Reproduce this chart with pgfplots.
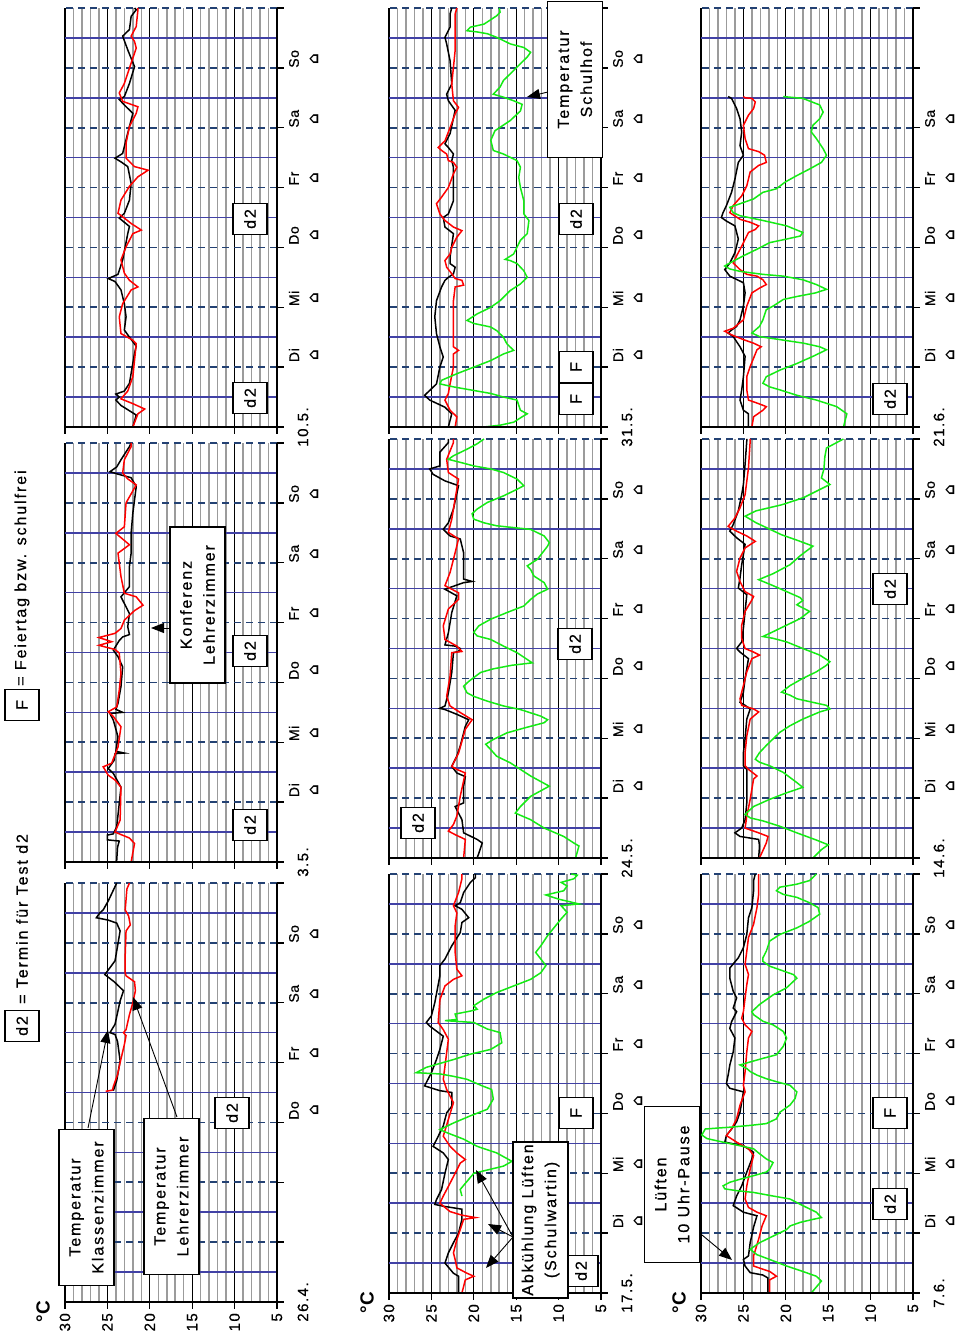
\documentclass[border=0pt]{standalone}
\usepackage{fontspec}
\setmainfont{Liberation Sans}
\newfontfamily\lsp{Liberation Sans}[LetterSpace=12,FakeBold=0.6]
\newfontfamily\lspn{Liberation Sans}[LetterSpace=10,FakeBold=0.6]
\newfontfamily\lspb{Liberation Sans}[LetterSpace=4,FakeBold=0.6]
\newfontfamily\dvs{DejaVu Sans}
\usepackage{pgfplots}
\pgfplotsset{compat=1.18}
\usetikzlibrary{arrows.meta}
\definecolor{dashblue}{RGB}{35,65,115}
\definecolor{solidblue}{RGB}{65,65,165}
\definecolor{gridgray}{RGB}{155,155,155}
\definecolor{schulgreen}{RGB}{20,235,20}
\pgfplotsset{
  panel/.style={scale only axis, width=212pt, height=419pt, anchor=south west,
    xmin=5, xmax=30, ymin=0, ymax=7, x dir=reverse,
    xtick={5,10,...,30}, minor x tick num=4,
    ytick={0,...,7}, minor y tick num=1,
    grid=both,
    major x grid style={black, line width=1.3pt},
    minor x grid style={gridgray, line width=1.5pt},
    major y grid style={dashblue, line width=1.6pt, dash pattern=on 7pt off 5pt},
    minor y grid style={solidblue, line width=1.6pt},
    xticklabels={}, yticklabels={},
    major tick length=0pt, minor tick length=0pt,
    axis line style={draw=none}, clip=false},
  kz/.style={black, line width=1.5pt, no marks},
  lz/.style={red, line width=1.5pt, no marks},
  sh/.style={schulgreen, line width=1.5pt, no marks},
}
\tikzset{
  wdlab/.style={rotate=90, font=\lspb\fontsize{14}{14}\selectfont, inner sep=0pt},
  dlabs/.style={rotate=90, font=\lspn\fontsize{15}{15}\selectfont, inner sep=0pt},
  glyph/.style={rotate=90, font=\dvs\bfseries\fontsize{15}{15}\selectfont, inner sep=0pt},
  numlab/.style={rotate=90, anchor=east, font=\lspn\fontsize{15}{15}\selectfont, inner sep=0pt},
  bigbox/.style={draw=black, line width=1.4pt, fill=white, rotate=90, minimum width=156pt,
    minimum height=55pt, inner sep=0pt, align=center, font=\lsp\fontsize{16}{23}\selectfont},
  smallbox/.style={draw=black, line width=1.4pt, fill=white, rotate=90, minimum width=31pt,
    minimum height=34pt, inner sep=0pt, font=\lsp\fontsize{16}{16}\selectfont},
  arr/.style={black, line width=0.9pt, -{Triangle[length=13pt,width=10pt]}},
}
\newcommand{\frameaxes}{%
  \draw[black, line width=1.5pt] (axis cs:30,0) -- (axis cs:5,0) -- (axis cs:5,7);
  \pgfplotsinvokeforeach{5,10,...,30}{\draw[black,line width=1.3pt] (axis cs:##1,0) -- ++(0pt,-7pt);}
  \pgfplotsinvokeforeach{0,...,7}{\draw[black,line width=1.3pt] (axis cs:5,##1) -- ++(7pt,0pt);}
}
\newcommand{\wday}[2]{%
  \node[wdlab] at ([xshift=17pt]axis cs:5,#1) {#2};
  \node[glyph] at ([xshift=37pt]axis cs:5,#1) {⌂};}
\newcommand{\dlab}[1]{\node[dlabs] at ([xshift=26pt]axis cs:5,0) {#1};}
\newcommand{\tnums}{%
  \pgfplotsinvokeforeach{5,10,...,30}{\node[numlab] at ([yshift=-11pt]axis cs:##1,0) {##1};}
  \node[rotate=90, anchor=east, inner sep=0pt, font=\bfseries\fontsize{19}{19}\selectfont] at ([xshift=-22pt,yshift=1pt]axis cs:30,0) {°C};}
\newcommand{\weeklabels}{\wday{1.2}{Di}\wday{2.15}{Mi}\wday{3.2}{Do}\wday{4.15}{Fr}\wday{5.15}{Sa}\wday{6.15}{So}}
\begin{document}
\begin{tikzpicture}[x=1pt,y=1pt]
\useasboundingbox (0,0) rectangle (957,1344);

% ===== 26.4. =====
\begin{axis}[panel, at={(65pt,42pt)}]
\addplot[kz] table[x index=1,y index=0,row sep=\\]{
3.53 24.3\\ 3.7 23.9\\ 4.03 23.5\\ 4.35 23.8\\ 4.47 24.1\\ 4.5 24.7\\ 4.64 24.1\\ 5.03 23.5\\ 5.2 23.1\\ 5.35 24.2\\ 5.47 25.3\\ 5.7 24.1\\ 6.03 23.7\\ 6.2 23.5\\ 6.33 23.9\\ 6.38 24.9\\ 6.42 26.3\\ 6.5 25.9\\ 6.55 25.5\\ 6.7 24.9\\ 6.94 24.1\\ 7.0 23.9\\
};
\addplot[lz] table[x index=1,y index=0,row sep=\\]{
3.52 25.2\\ 3.54 24.4\\ 3.6 24.3\\ 3.8 23.8\\ 4.0 23.5\\ 4.3 23.0\\ 4.45 22.8\\ 4.5 23.1\\ 4.55 22.8\\ 4.8 22.4\\ 5.0 22.0\\ 5.2 21.7\\ 5.35 21.8\\ 5.45 22.8\\ 5.5 22.9\\ 5.8 22.9\\ 6.2 22.8\\ 6.3 22.3\\ 6.45 22.5\\ 6.55 22.9\\ 6.9 22.7\\ 7.0 22.4\\
};
\frameaxes
\wday{3.2}{Do}\wday{4.15}{Fr}\wday{5.15}{Sa}\wday{6.15}{So}
\dlab{26.4.}
\tnums
\end{axis}

% ===== 3.5. =====
\begin{axis}[panel, at={(65pt,482pt)}]
\addplot[kz] table[x index=1,y index=0,row sep=\\]{
0 24.0\\ 0.03 23.9\\ 0.25 23.8\\ 0.35 23.6\\ 0.37 25.0\\ 0.45 25.0\\ 0.47 24.3\\ 0.59 23.9\\ 0.98 23.6\\ 1.25 23.4\\ 1.48 24.3\\ 1.56 24.9\\ 1.7 24.2\\ 1.81 24.1\\ 1.82 23.0\\ 1.85 24.0\\ 2.09 23.75\\ 2.37 24.3\\ 2.48 24.7\\ 2.5 23.2\\ 2.55 24.0\\ 2.65 23.75\\ 2.93 23.4\\ 3.26 23.2\\ 3.43 23.75\\ 3.54 24.3\\ 3.7 23.6\\ 3.76 23.2\\ 3.8 22.4\\ 3.93 22.6\\ 4.15 22.4\\ 4.43 23.4\\ 4.6 22.4\\ 4.94 22.4\\ 5.16 22.2\\ 5.5 22.2\\ 5.83 22.0\\ 6.27 21.6\\ 6.42 22.2\\ 6.48 23.75\\ 6.52 24.7\\ 6.6 23.9\\ 6.72 23.4\\ 6.94 22.4\\ 7.0 22.2\\
};
\addplot[lz] table[x index=1,y index=0,row sep=\\]{
0 22.2\\ 0.31 21.8\\ 0.4 22.4\\ 0.5 24.1\\ 0.7 23.5\\ 1.25 23.4\\ 1.37 24.1\\ 1.45 24.9\\ 1.59 25.5\\ 1.65 24.5\\ 1.92 23.75\\ 2.26 23.4\\ 2.43 24.3\\ 2.51 24.9\\ 2.59 23.9\\ 2.87 23.6\\ 3.15 23.4\\ 3.49 23.6\\ 3.55 24.1\\ 3.62 26.0\\ 3.68 24.5\\ 3.75 26.0\\ 3.82 24.1\\ 3.9 23.4\\ 4.04 23.0\\ 4.2 21.8\\ 4.29 20.8\\ 4.43 21.6\\ 4.49 23.0\\ 4.77 23.4\\ 5.16 23.75\\ 5.3 22.4\\ 5.49 24.0\\ 5.6 23.0\\ 6.0 22.8\\ 6.3 21.6\\ 6.4 22.6\\ 6.5 23.2\\ 6.72 23.0\\ 6.94 22.2\\ 7.0 22.2\\
};
\frameaxes
\weeklabels
\dlab{3.5.}
\end{axis}

% ===== 10.5. =====
\begin{axis}[panel, at={(65pt,917pt)}]
\addplot[kz] table[x index=1,y index=0,row sep=\\]{
0 22.0\\ 0.2 21.6\\ 0.36 23.4\\ 0.45 24.0\\ 0.5 23.6\\ 0.55 24.0\\ 0.6 23.0\\ 0.73 22.4\\ 1.23 21.8\\ 1.35 21.6\\ 1.5 22.4\\ 1.62 23.0\\ 1.84 22.8\\ 2.06 23.0\\ 2.29 23.4\\ 2.43 24.1\\ 2.48 24.9\\ 2.55 23.75\\ 2.79 23.2\\ 3.23 22.6\\ 3.35 22.4\\ 3.49 23.6\\ 3.57 23.0\\ 3.79 22.4\\ 4.07 22.2\\ 4.35 22.6\\ 4.43 23.4\\ 4.49 24.1\\ 4.57 23.2\\ 4.8 22.8\\ 5.24 22.0\\ 5.38 23.0\\ 5.47 23.6\\ 5.52 23.0\\ 5.74 22.4\\ 6.02 21.8\\ 6.3 22.6\\ 6.53 23.2\\ 6.64 22.4\\ 6.86 22.2\\ 6.97 21.6\\ 7.0 21.8\\
};
\addplot[lz] table[x index=1,y index=0,row sep=\\]{
0 22.0\\ 0.22 21.4\\ 0.3 20.6\\ 0.39 22.0\\ 0.47 23.4\\ 0.6 22.6\\ 0.84 22.0\\ 1.39 21.6\\ 1.45 22.0\\ 1.56 23.4\\ 1.84 23.6\\ 2.06 23.2\\ 2.29 22.2\\ 2.34 21.4\\ 2.45 22.4\\ 2.57 23.0\\ 2.79 23.4\\ 3.01 22.8\\ 3.23 22.0\\ 3.29 21.0\\ 3.4 22.2\\ 3.49 23.0\\ 3.57 23.75\\ 3.79 23.4\\ 4.02 22.4\\ 4.18 21.4\\ 4.29 20.2\\ 4.35 21.8\\ 4.49 22.8\\ 4.74 22.8\\ 5.02 22.4\\ 5.24 21.6\\ 5.35 21.4\\ 5.44 23.2\\ 5.58 23.6\\ 5.74 23.0\\ 6.08 22.2\\ 6.33 21.6\\ 6.44 21.8\\ 6.53 22.2\\ 6.69 21.6\\ 6.97 21.4\\ 7.0 21.4\\
};
\frameaxes
\weeklabels
\dlab{10.5.}
\end{axis}

% ===== 17.5. =====
\begin{axis}[panel, at={(389pt,51pt)}]
\addplot[kz] table[x index=1,y index=0,row sep=\\]{
0 21.8\\ 0.28 21.8\\ 0.33 22.4\\ 0.5 23.4\\ 0.67 23.0\\ 0.84 22.4\\ 1.0 21.8\\ 1.23 21.4\\ 1.4 21.4\\ 1.45 23.6\\ 1.48 24.6\\ 1.56 24.4\\ 1.73 23.8\\ 2.0 23.4\\ 2.23 23.0\\ 2.34 23.6\\ 2.45 24.8\\ 2.56 24.4\\ 2.79 23.6\\ 3.01 23.2\\ 3.12 22.6\\ 3.35 22.6\\ 3.38 24.0\\ 3.46 25.8\\ 3.57 25.4\\ 3.68 25.0\\ 3.9 24.4\\ 4.07 24.0\\ 4.29 23.6\\ 4.46 25.2\\ 4.52 25.6\\ 4.63 25.0\\ 4.85 24.6\\ 5.3 24.0\\ 5.47 24.0\\ 5.58 23.4\\ 5.8 22.6\\ 6.02 21.6\\ 6.19 21.4\\ 6.27 20.6\\ 6.41 21.4\\ 6.47 22.2\\ 6.52 21.6\\ 6.69 21.2\\ 6.86 20.4\\ 6.94 19.8\\ 7.0 19.8\\
};
\addplot[lz] table[x index=1,y index=0,row sep=\\]{
0 21.4\\ 0.22 21.0\\ 0.28 20.0\\ 0.33 20.8\\ 0.42 22.0\\ 0.56 22.2\\ 0.67 22.4\\ 0.89 22.0\\ 1.23 21.2\\ 1.26 19.8\\ 1.3 21.4\\ 1.36 22.8\\ 1.5 24.0\\ 1.62 23.6\\ 1.78 23.0\\ 2.0 22.2\\ 2.17 21.6\\ 2.23 21.0\\ 2.34 22.0\\ 2.45 22.8\\ 2.62 23.6\\ 2.9 23.0\\ 3.18 22.4\\ 3.4 23.2\\ 3.57 23.6\\ 3.79 23.4\\ 4.24 23.0\\ 4.4 23.6\\ 4.52 24.2\\ 4.9 24.0\\ 5.13 23.4\\ 5.24 22.4\\ 5.3 21.4\\ 5.41 22.0\\ 5.69 22.2\\ 6.13 22.2\\ 6.35 22.0\\ 6.47 22.4\\ 6.69 21.8\\ 6.92 21.4\\ 7.0 21.4\\
};
\addplot[sh] table[x index=1,y index=0,row sep=\\]{
1.62 21.4\\ 1.73 21.6\\ 2.0 20.0\\ 2.12 16.5\\ 2.2 15.5\\ 2.34 17.3\\ 2.45 19.6\\ 2.57 21.2\\ 2.68 23.2\\ 2.73 24.0\\ 2.84 22.4\\ 2.96 20.4\\ 3.07 18.4\\ 3.24 17.7\\ 3.4 17.9\\ 3.46 19.0\\ 3.57 20.8\\ 3.62 22.4\\ 3.66 24.0\\ 3.68 26.8\\ 3.77 25.6\\ 3.9 22.4\\ 3.99 20.4\\ 4.07 18.0\\ 4.18 16.7\\ 4.35 16.9\\ 4.41 18.4\\ 4.52 20.0\\ 4.55 23.4\\ 4.57 22.0\\ 4.66 22.2\\ 4.71 20.4\\ 4.74 19.6\\ 4.8 20.0\\ 4.91 18.8\\ 5.02 17.3\\ 5.13 15.3\\ 5.24 13.3\\ 5.35 12.1\\ 5.47 11.5\\ 5.58 12.1\\ 5.69 12.7\\ 5.8 12.1\\ 5.97 11.3\\ 6.25 9.7\\ 6.36 9.0\\ 6.47 9.7\\ 6.5 7.6\\ 6.58 10.0\\ 6.65 11.5\\ 6.72 9.4\\ 6.8 9.0\\ 6.86 9.7\\ 6.92 8.2\\ 6.98 7.8\\ 7.0 8.5\\
};
\frameaxes
\weeklabels
\dlab{17.5.}
\tnums
\end{axis}

% ===== 24.5. =====
\begin{axis}[panel, at={(389pt,486pt)}]
\addplot[kz] table[x index=1,y index=0,row sep=\\]{
0 19.6\\ 0.25 19.0\\ 0.31 19.6\\ 0.42 21.2\\ 0.64 21.4\\ 0.75 21.8\\ 0.86 22.2\\ 0.92 21.2\\ 1.2 21.2\\ 1.36 21.0\\ 1.42 22.0\\ 1.53 22.6\\ 1.7 22.0\\ 1.87 21.6\\ 2.2 21.0\\ 2.31 20.6\\ 2.4 22.0\\ 2.48 23.4\\ 2.5 24.0\\ 2.54 23.4\\ 2.76 23.0\\ 3.1 22.6\\ 3.43 22.4\\ 3.45 21.8\\ 3.5 21.6\\ 3.54 22.2\\ 3.56 23.4\\ 3.76 23.0\\ 4.1 22.6\\ 4.38 22.0\\ 4.49 23.4\\ 4.55 22.2\\ 4.6 21.2\\ 4.62 20.2\\ 4.66 21.2\\ 5.1 21.2\\ 5.33 21.6\\ 5.38 22.8\\ 5.49 23.6\\ 5.6 23.0\\ 5.83 22.4\\ 6.22 21.8\\ 6.3 23.4\\ 6.41 24.8\\ 6.5 25.2\\ 6.55 24.0\\ 6.78 24.0\\ 6.94 23.0\\ 7.0 23.0\\
};
\addplot[lz] table[x index=1,y index=0,row sep=\\]{
0 21.2\\ 0.31 21.0\\ 0.39 22.2\\ 0.45 23.0\\ 0.56 22.4\\ 0.7 22.0\\ 1.03 21.6\\ 1.42 21.0\\ 1.48 22.0\\ 1.53 22.6\\ 1.75 21.8\\ 2.15 21.0\\ 2.31 20.2\\ 2.43 21.6\\ 2.54 22.8\\ 2.7 23.2\\ 3.04 22.8\\ 3.43 22.6\\ 3.45 21.4\\ 3.54 22.0\\ 3.65 23.4\\ 3.88 23.6\\ 4.16 23.0\\ 4.32 21.8\\ 4.43 21.8\\ 4.55 23.4\\ 4.77 22.8\\ 5.1 22.2\\ 5.33 21.8\\ 5.44 23.0\\ 5.66 22.6\\ 6.0 22.2\\ 6.33 21.8\\ 6.44 23.0\\ 6.66 23.2\\ 6.94 22.4\\ 7.0 22.4\\
};
\addplot[sh] table[x index=1,y index=0,row sep=\\]{
0 8.0\\ 0.2 7.6\\ 0.25 8.2\\ 0.36 9.4\\ 0.5 11.7\\ 0.64 13.3\\ 0.75 15.1\\ 0.86 14.5\\ 1.03 13.3\\ 1.2 11.1\\ 1.37 13.3\\ 1.59 15.7\\ 1.7 17.3\\ 1.81 18.0\\ 1.9 18.6\\ 1.98 17.7\\ 2.09 16.1\\ 2.17 14.1\\ 2.26 11.7\\ 2.31 11.3\\ 2.37 12.1\\ 2.48 14.5\\ 2.54 16.5\\ 2.62 18.4\\ 2.7 20.0\\ 2.76 20.8\\ 2.87 21.2\\ 2.95 20.6\\ 3.1 19.2\\ 3.16 17.7\\ 3.22 15.5\\ 3.26 13.1\\ 3.43 14.9\\ 3.54 16.5\\ 3.65 18.0\\ 3.71 19.6\\ 3.77 20.0\\ 3.88 19.4\\ 3.99 18.0\\ 4.1 16.1\\ 4.21 14.1\\ 4.32 13.3\\ 4.41 12.5\\ 4.49 11.3\\ 4.6 11.7\\ 4.71 12.9\\ 4.82 13.3\\ 4.88 13.7\\ 4.99 12.5\\ 5.21 11.3\\ 5.27 11.1\\ 5.38 11.7\\ 5.49 13.3\\ 5.52 15.3\\ 5.55 17.3\\ 5.6 18.8\\ 5.66 20.0\\ 5.75 20.2\\ 5.83 19.6\\ 5.94 18.4\\ 6.05 16.5\\ 6.16 14.9\\ 6.22 14.1\\ 6.33 14.9\\ 6.44 16.5\\ 6.5 18.0\\ 6.55 20.0\\ 6.61 21.6\\ 6.66 23.0\\ 6.72 22.4\\ 6.83 20.8\\ 6.92 19.6\\ 7.0 18.8\\
};
\frameaxes
\weeklabels
\dlab{24.5.}
\end{axis}

% ===== 31.5. =====
\begin{axis}[panel, at={(389pt,917pt)}]
\addplot[kz] table[x index=1,y index=0,row sep=\\]{
0 23.0\\ 0.22 22.6\\ 0.33 23.4\\ 0.45 25.2\\ 0.53 25.8\\ 0.61 25.2\\ 0.72 24.4\\ 1.0 24.0\\ 1.17 23.6\\ 1.34 24.0\\ 1.56 24.4\\ 1.84 24.6\\ 2.11 24.4\\ 2.34 23.8\\ 2.45 23.4\\ 2.5 23.0\\ 2.56 22.4\\ 2.67 22.2\\ 2.73 22.8\\ 2.84 22.8\\ 3.23 22.4\\ 3.34 23.4\\ 3.5 23.6\\ 3.56 23.0\\ 3.78 22.4\\ 4.34 22.4\\ 4.45 22.6\\ 4.56 22.4\\ 4.67 23.0\\ 4.73 23.4\\ 4.9 22.8\\ 5.29 22.2\\ 5.45 23.0\\ 5.56 23.2\\ 5.73 22.6\\ 6.12 22.8\\ 6.4 23.2\\ 6.51 23.4\\ 6.68 22.8\\ 6.9 22.8\\ 7.0 22.6\\
};
\addplot[lz] table[x index=1,y index=0,row sep=\\]{
0 22.2\\ 0.17 22.0\\ 0.28 22.8\\ 0.45 23.4\\ 0.56 23.0\\ 0.72 22.8\\ 1.0 22.4\\ 1.22 22.4\\ 1.28 21.8\\ 1.34 22.4\\ 2.11 22.4\\ 2.34 22.2\\ 2.37 21.2\\ 2.45 21.4\\ 2.48 22.2\\ 2.56 22.6\\ 2.67 23.2\\ 2.78 23.4\\ 2.89 22.8\\ 3.0 22.6\\ 3.17 22.0\\ 3.28 21.4\\ 3.34 22.4\\ 3.45 23.4\\ 3.56 24.0\\ 3.73 24.4\\ 3.84 23.8\\ 4.0 23.0\\ 4.23 22.4\\ 4.34 22.0\\ 4.42 22.4\\ 4.45 23.0\\ 4.56 23.2\\ 4.62 23.8\\ 4.67 24.2\\ 4.78 23.4\\ 5.0 22.8\\ 5.23 22.2\\ 5.34 21.8\\ 5.45 22.4\\ 5.73 22.6\\ 6.29 22.2\\ 6.62 22.2\\ 6.9 22.2\\ 7.0 22.0\\
};
\addplot[sh] table[x index=1,y index=0,row sep=\\]{
0 18.8\\ 0.03 16.9\\ 0.08 15.3\\ 0.17 14.3\\ 0.22 13.7\\ 0.28 14.5\\ 0.45 14.9\\ 0.5 16.5\\ 0.56 18.0\\ 0.61 20.0\\ 0.67 22.4\\ 0.72 24.0\\ 0.78 23.8\\ 0.89 22.0\\ 1.0 20.0\\ 1.11 18.0\\ 1.22 16.5\\ 1.28 15.3\\ 1.39 16.1\\ 1.5 16.5\\ 1.61 17.3\\ 1.67 18.0\\ 1.73 20.0\\ 1.78 20.8\\ 1.89 19.6\\ 2.0 18.0\\ 2.11 16.9\\ 2.28 15.7\\ 2.39 14.5\\ 2.5 13.7\\ 2.61 14.1\\ 2.73 14.9\\ 2.78 15.7\\ 2.8 16.3\\ 2.89 15.3\\ 3.12 14.5\\ 3.23 13.7\\ 3.45 13.5\\ 3.56 14.1\\ 3.78 14.1\\ 4.0 14.5\\ 4.17 14.7\\ 4.34 14.5\\ 4.45 14.9\\ 4.56 16.5\\ 4.62 17.7\\ 4.79 18.0\\ 4.95 17.5\\ 5.12 15.7\\ 5.28 14.5\\ 5.39 14.3\\ 5.45 15.3\\ 5.51 16.5\\ 5.56 17.7\\ 5.68 16.9\\ 5.79 16.5\\ 5.9 15.7\\ 6.07 14.5\\ 6.18 13.7\\ 6.26 13.3\\ 6.34 14.1\\ 6.4 15.7\\ 6.51 17.3\\ 6.57 18.4\\ 6.6 19.6\\ 6.62 20.8\\ 6.68 20.4\\ 6.73 18.8\\ 6.87 17.3\\ 6.93 16.9\\ 7.0 17.0\\
};
\frameaxes
\weeklabels
\dlab{31.5.}
\end{axis}

% ===== 7.6. =====
\begin{axis}[panel, at={(701pt,51pt)}]
\addplot[kz] table[x index=1,y index=0,row sep=\\]{
0 22.1\\ 0.25 22.1\\ 0.3 22.7\\ 0.34 24.2\\ 0.45 24.8\\ 0.56 25.0\\ 0.62 24.4\\ 0.84 24.2\\ 1.1 23.8\\ 1.29 23.4\\ 1.35 25.0\\ 1.46 26.2\\ 1.62 25.8\\ 1.79 25.2\\ 2.02 24.6\\ 2.24 24.0\\ 2.35 23.8\\ 2.46 25.0\\ 2.52 27.2\\ 2.63 27.0\\ 2.74 26.4\\ 2.86 25.8\\ 3.02 25.4\\ 3.19 25.2\\ 3.36 25.0\\ 3.42 26.6\\ 3.5 27.0\\ 3.64 26.8\\ 3.81 26.6\\ 4.03 26.2\\ 4.26 26.0\\ 4.42 26.6\\ 4.53 26.4\\ 4.7 25.8\\ 4.76 26.2\\ 4.93 25.8\\ 5.04 26.2\\ 5.26 26.6\\ 5.43 26.6\\ 5.6 25.6\\ 5.77 25.0\\ 5.99 24.6\\ 6.27 24.4\\ 6.44 24.0\\ 6.72 23.8\\ 6.89 23.8\\ 7.0 23.6\\
};
\addplot[lz] table[x index=1,y index=0,row sep=\\]{
0 21.9\\ 0.22 21.9\\ 0.28 21.1\\ 0.36 21.9\\ 0.45 23.8\\ 0.62 23.8\\ 0.9 23.2\\ 1.12 22.8\\ 1.29 22.3\\ 1.35 23.4\\ 1.43 24.4\\ 1.57 24.8\\ 1.79 24.6\\ 2.07 24.2\\ 2.3 23.8\\ 2.41 24.4\\ 2.52 25.8\\ 2.63 27.0\\ 2.74 26.4\\ 2.91 25.8\\ 3.14 25.4\\ 3.36 24.8\\ 3.47 25.0\\ 3.7 24.8\\ 4.03 24.6\\ 4.26 24.4\\ 4.37 24.0\\ 4.48 24.8\\ 4.59 25.2\\ 4.7 25.0\\ 4.93 24.8\\ 5.15 24.6\\ 5.32 24.4\\ 5.49 24.8\\ 5.71 24.6\\ 5.94 24.4\\ 6.16 23.8\\ 6.44 23.4\\ 6.66 23.2\\ 6.94 23.2\\ 7.0 23.2\\
};
\addplot[sh] table[x index=1,y index=0,row sep=\\]{
0 17.0\\ 0.1 16.4\\ 0.2 15.8\\ 0.28 16.4\\ 0.36 18.0\\ 0.45 19.9\\ 0.56 21.9\\ 0.64 23.4\\ 0.73 24.2\\ 0.84 23.1\\ 0.95 21.5\\ 1.06 19.9\\ 1.12 19.5\\ 1.18 18.3\\ 1.23 16.8\\ 1.26 15.8\\ 1.35 16.4\\ 1.46 18.0\\ 1.57 19.5\\ 1.62 21.5\\ 1.68 23.8\\ 1.71 25.8\\ 1.74 27.2\\ 1.79 27.4\\ 1.85 26.6\\ 1.9 25.4\\ 1.96 23.8\\ 2.02 22.3\\ 2.07 21.9\\ 2.18 21.5\\ 2.24 22.3\\ 2.35 23.3\\ 2.41 23.8\\ 2.46 25.4\\ 2.52 27.4\\ 2.58 29.3\\ 2.64 29.9\\ 2.74 29.5\\ 2.77 26.6\\ 2.8 24.2\\ 2.83 22.3\\ 2.91 21.1\\ 3.02 20.7\\ 3.14 19.5\\ 3.25 18.9\\ 3.36 18.7\\ 3.47 19.5\\ 3.53 21.1\\ 3.58 22.3\\ 3.64 23.4\\ 3.7 24.2\\ 3.75 24.6\\ 3.81 25.4\\ 3.86 24.2\\ 3.92 22.7\\ 3.98 21.1\\ 4.12 20.3\\ 4.26 19.9\\ 4.37 20.3\\ 4.48 21.5\\ 4.54 22.7\\ 4.65 23.8\\ 4.7 24.0\\ 4.82 23.1\\ 4.98 21.5\\ 5.1 19.9\\ 5.26 18.7\\ 5.32 19.1\\ 5.38 20.3\\ 5.46 21.9\\ 5.54 22.7\\ 5.6 22.7\\ 5.71 22.3\\ 5.88 21.9\\ 5.99 20.7\\ 6.1 18.7\\ 6.21 17.2\\ 6.33 16.0\\ 6.44 16.2\\ 6.52 17.2\\ 6.61 18.7\\ 6.66 20.3\\ 6.72 21.1\\ 6.78 20.7\\ 6.83 18.7\\ 6.89 17.2\\ 6.97 16.6\\ 7.0 16.4\\
};
\frameaxes
\weeklabels
\dlab{7.6.}
\tnums
\end{axis}

% ===== 14.6. =====
\begin{axis}[panel, at={(701pt,486pt)}]
\addplot[kz] table[x index=1,y index=0,row sep=\\]{
0 23.2\\ 0.2 23.1\\ 0.31 23.2\\ 0.36 25.4\\ 0.42 26.0\\ 0.5 25.2\\ 0.64 24.8\\ 0.92 24.6\\ 1.48 24.6\\ 1.54 25.0\\ 1.76 25.0\\ 1.99 24.8\\ 2.32 24.6\\ 2.49 24.2\\ 2.55 24.8\\ 2.6 25.4\\ 2.77 25.0\\ 3.0 24.8\\ 3.33 24.4\\ 3.44 25.4\\ 3.5 25.8\\ 3.61 25.2\\ 3.84 25.0\\ 4.12 24.8\\ 4.4 24.6\\ 4.51 25.6\\ 4.68 25.4\\ 4.9 25.2\\ 5.24 24.8\\ 5.35 25.8\\ 5.46 26.6\\ 5.57 26.2\\ 5.8 25.6\\ 6.07 25.2\\ 6.24 25.0\\ 6.58 24.8\\ 6.97 24.6\\ 7.0 24.6\\
};
\addplot[lz] table[x index=1,y index=0,row sep=\\]{
0 23.1\\ 0.25 22.3\\ 0.36 22.1\\ 0.42 23.2\\ 0.5 24.8\\ 0.7 24.6\\ 0.98 24.2\\ 1.32 23.8\\ 1.37 23.4\\ 1.48 24.4\\ 1.54 24.8\\ 1.76 24.8\\ 2.04 24.6\\ 2.32 24.2\\ 2.44 23.2\\ 2.49 23.8\\ 2.55 25.2\\ 2.66 25.4\\ 2.88 25.0\\ 3.11 24.6\\ 3.33 24.0\\ 3.39 23.1\\ 3.44 23.8\\ 3.5 24.8\\ 3.67 25.2\\ 3.89 25.2\\ 4.12 24.8\\ 4.31 24.0\\ 4.37 23.8\\ 4.45 24.8\\ 4.62 25.4\\ 4.79 25.8\\ 5.01 25.4\\ 5.18 24.8\\ 5.29 23.6\\ 5.38 24.6\\ 5.46 25.8\\ 5.54 26.8\\ 5.68 26.0\\ 5.85 25.4\\ 6.07 24.8\\ 6.52 24.4\\ 6.97 24.2\\ 7.0 24.2\\
};
\addplot[sh] table[x index=1,y index=0,row sep=\\]{
0 16.8\\ 0.14 15.8\\ 0.22 15.0\\ 0.3 16.4\\ 0.42 18.7\\ 0.53 20.7\\ 0.62 22.7\\ 0.67 24.2\\ 0.73 24.8\\ 0.86 23.8\\ 0.98 21.9\\ 1.09 19.9\\ 1.18 18.0\\ 1.26 18.7\\ 1.43 20.3\\ 1.54 21.9\\ 1.6 23.1\\ 1.65 23.6\\ 1.76 23.1\\ 1.88 22.3\\ 1.99 21.5\\ 2.1 20.7\\ 2.21 19.5\\ 2.32 18.0\\ 2.44 16.0\\ 2.49 14.8\\ 2.55 15.2\\ 2.6 16.8\\ 2.66 18.7\\ 2.72 19.5\\ 2.77 20.5\\ 2.88 19.5\\ 3.0 18.0\\ 3.11 16.4\\ 3.22 15.2\\ 3.28 14.8\\ 3.39 16.0\\ 3.5 18.0\\ 3.61 19.9\\ 3.67 21.5\\ 3.7 22.7\\ 3.78 21.5\\ 3.89 19.9\\ 4.0 18.3\\ 4.12 17.2\\ 4.23 18.7\\ 4.3 18.0\\ 4.35 18.3\\ 4.45 19.9\\ 4.55 21.5\\ 4.65 23.2\\ 4.75 21.5\\ 4.9 19.5\\ 5.05 18.3\\ 5.21 16.8\\ 5.3 18.5\\ 5.4 20.5\\ 5.5 22.0\\ 5.6 23.5\\ 5.71 24.8\\ 5.8 23.5\\ 5.9 20.5\\ 6.02 17.9\\ 6.12 16.5\\ 6.24 14.8\\ 6.35 15.8\\ 6.5 15.5\\ 6.7 15.4\\ 6.85 15.2\\ 7.0 13.2\\
};
\frameaxes
\weeklabels
\dlab{14.6.}
\end{axis}

% ===== 21.6. =====
\begin{axis}[panel, at={(701pt,917pt)}]
\addplot[kz] table[x index=1,y index=0,row sep=\\]{
0 24.4\\ 0.22 24.4\\ 0.28 25.0\\ 0.45 25.4\\ 0.62 25.2\\ 0.84 25.0\\ 1.18 24.8\\ 1.34 25.4\\ 1.51 26.2\\ 1.57 26.8\\ 1.62 26.4\\ 1.68 25.8\\ 1.79 25.4\\ 2.02 25.0\\ 2.24 24.8\\ 2.41 25.0\\ 2.52 26.6\\ 2.63 27.2\\ 2.74 26.6\\ 2.91 26.0\\ 3.14 25.6\\ 3.36 26.0\\ 3.44 27.0\\ 3.5 27.6\\ 3.58 27.4\\ 3.7 27.0\\ 3.92 26.4\\ 4.14 26.0\\ 4.42 25.6\\ 4.54 25.0\\ 4.7 25.4\\ 4.93 25.2\\ 5.15 25.4\\ 5.32 25.8\\ 5.49 26.4\\ 5.52 26.8\\
};
\addplot[lz] table[x index=1,y index=0,row sep=\\]{
0 24.0\\ 0.17 23.8\\ 0.28 22.7\\ 0.34 22.3\\ 0.39 23.2\\ 0.45 24.4\\ 0.62 24.6\\ 0.84 24.6\\ 1.01 24.2\\ 1.29 23.4\\ 1.34 22.9\\ 1.4 23.8\\ 1.46 25.0\\ 1.54 26.4\\ 1.6 27.2\\ 1.65 26.2\\ 1.79 25.0\\ 2.02 24.6\\ 2.24 24.0\\ 2.32 23.1\\ 2.38 22.3\\ 2.46 22.7\\ 2.52 23.4\\ 2.55 24.6\\ 2.63 25.4\\ 2.74 26.2\\ 2.86 25.8\\ 3.02 25.2\\ 3.25 24.4\\ 3.3 23.6\\ 3.36 23.2\\ 3.42 24.2\\ 3.47 25.4\\ 3.58 26.6\\ 3.7 26.2\\ 3.86 25.2\\ 4.03 24.6\\ 4.26 24.2\\ 4.37 23.2\\ 4.42 22.3\\ 4.54 22.5\\ 4.6 23.2\\ 4.65 24.4\\ 4.82 24.8\\ 5.04 25.0\\ 5.21 24.4\\ 5.32 23.8\\ 5.43 23.6\\ 5.49 24.0\\ 5.5 24.8\\ 5.52 25.0\\
};
\addplot[sh] table[x index=1,y index=0,row sep=\\]{
0 13.2\\ 0.22 12.8\\ 0.34 14.0\\ 0.45 16.4\\ 0.53 18.7\\ 0.62 20.7\\ 0.67 21.9\\ 0.73 22.7\\ 0.84 22.3\\ 0.95 20.7\\ 1.06 18.7\\ 1.18 16.8\\ 1.29 15.2\\ 1.34 16.0\\ 1.4 17.9\\ 1.46 20.7\\ 1.51 23.1\\ 1.57 24.0\\ 1.68 23.1\\ 1.79 22.7\\ 1.96 22.3\\ 2.02 21.5\\ 2.13 20.3\\ 2.18 18.7\\ 2.24 16.5\\ 2.3 15.2\\ 2.38 16.4\\ 2.46 18.0\\ 2.52 20.3\\ 2.55 22.7\\ 2.6 25.4\\ 2.64 26.6\\ 2.69 27.2\\ 2.74 26.6\\ 2.86 25.0\\ 2.97 23.4\\ 3.08 21.9\\ 3.14 19.9\\ 3.19 18.3\\ 3.25 18.0\\ 3.36 19.9\\ 3.45 22.7\\ 3.53 25.4\\ 3.58 26.2\\ 3.67 26.6\\ 3.75 25.0\\ 3.81 23.8\\ 3.92 22.7\\ 3.98 21.1\\ 4.09 20.1\\ 4.2 18.7\\ 4.31 17.2\\ 4.42 15.8\\ 4.54 15.2\\ 4.65 15.6\\ 4.82 16.4\\ 4.93 17.0\\ 5.04 16.8\\ 5.15 16.0\\ 5.26 15.6\\ 5.38 16.0\\ 5.49 18.0\\ 5.52 20.3\\
};
\frameaxes
\wday{1.2}{Di}\wday{2.15}{Mi}\wday{3.2}{Do}\wday{4.15}{Fr}\wday{5.15}{Sa}
\dlab{21.6.}
\end{axis}

% ===== legend =====
\node[smallbox] at (22,318) {d2};
\node[rotate=90, anchor=west, inner sep=0pt, font=\lsp\fontsize{16}{16}\selectfont] at (22,340) {= Termin für Test d2};
\node[smallbox] at (22,639) {F};
\node[rotate=90, anchor=west, inner sep=0pt, font=\lsp\fontsize{16}{16}\selectfont] at (22,658) {= Feiertag bzw. schulfrei};

% ===== small markers =====
\node[smallbox] at (232,231) {d2};
\node[smallbox] at (250,519) {d2};
\node[smallbox] at (250,693) {d2};
\node[smallbox] at (250,946) {d2};
\node[smallbox] at (250,1125) {d2};
\node[smallbox] at (581,73) {d2};
\node[smallbox] at (576,231) {F};
\node[smallbox] at (418,521) {d2};
\node[smallbox] at (575,700) {d2};
\node[smallbox] at (576,945) {F};
\node[smallbox] at (576,977) {F};
\node[smallbox] at (576,1125) {d2};
\node[smallbox] at (890,140) {d2};
\node[smallbox] at (890,231) {F};
\node[smallbox] at (890,755) {d2};
\node[smallbox] at (890,945) {d2};

% ===== annotation boxes and arrows =====
\draw[arr] (88,216) -- (108,314);
\draw[arr] (177,227) -- (133,347);
\node[bigbox] at (86.5,136.5) {Temperatur\\Klassenzimmer};
\node[bigbox] at (171.5,147.5) {Temperatur\\Lehrerzimmer};
\draw[arr] (171,716) -- (151,716);
\node[bigbox] at (197.5,739) {Konferenz\\Lehrerzimmer};
\draw[arr] (513,107) -- (476,174);
\draw[arr] (513,107) -- (488,120);
\draw[arr] (513,107) -- (486,76);
\node[bigbox] at (540.5,124) {Abkühlung Lüften\\(Schulwartin)};
\draw[arr] (702,109) -- (732,84);
\node[bigbox] at (672,159.5) {Lüften\\10 Uhr-Pause};
\draw[arr] (548,1252) -- (527,1247);
\node[bigbox] at (575,1264.5) {Temperatur\\Schulhof};
\end{tikzpicture}
\end{document}
